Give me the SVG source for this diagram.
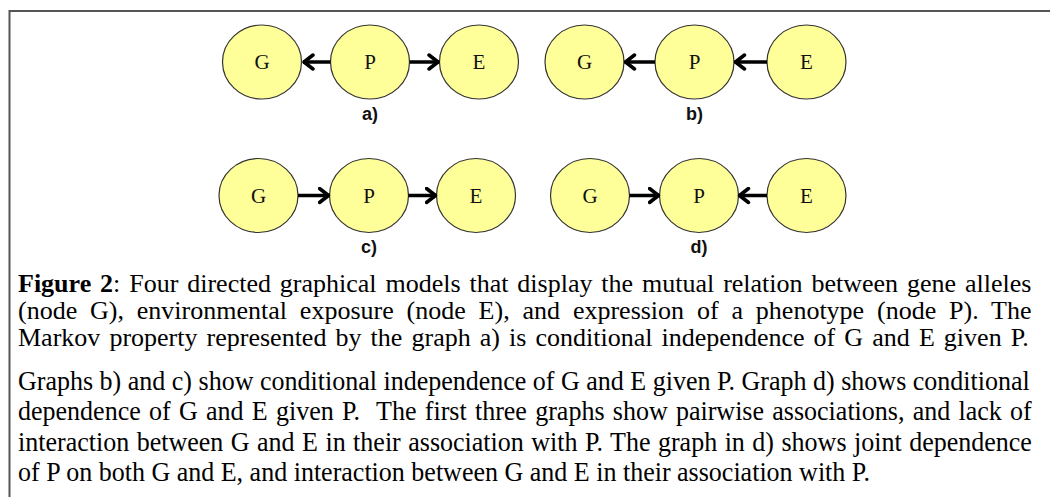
<svg xmlns="http://www.w3.org/2000/svg" width="1050" height="497" viewBox="0 0 1050 497">
<style>
.node ellipse{fill:#ffff99;stroke:#333;stroke-width:1.2}
.node text{font-family:"Liberation Serif",serif;font-size:21px;fill:#111;text-anchor:middle}
.lbl{font-family:"Liberation Sans",Arial,sans-serif;font-size:18px;font-weight:bold;text-anchor:middle;fill:#111}
.cap{font-family:"Liberation Serif","Times New Roman",serif;font-size:26px;fill:#000}
.cap .nar{font-size:28px}
.edge{stroke:#000;stroke-width:3.5;fill:none;marker-end:url(#arr)}
</style>
<defs>
<marker id="arr" markerUnits="userSpaceOnUse" viewBox="0 0 14 18" markerWidth="14" markerHeight="18" refX="12" refY="9" orient="auto">
<path d="M2,2 L11,9 L2,16" fill="none" stroke="#000" stroke-width="3.5" stroke-linecap="round" stroke-linejoin="round"/>
</marker>
</defs>
<rect width="1050" height="497" fill="#fff"/>
<path d="M9.5,497 V11 H1050" fill="none" stroke="#555" stroke-width="2"/>

<g id="a-G" class="node"><ellipse cx="262" cy="62" rx="39.5" ry="37"/><text x="262" y="69">G</text></g>
<g id="a-P" class="node"><ellipse cx="370" cy="62" rx="39.5" ry="37"/><text x="370" y="69">P</text></g>
<g id="a-E" class="node"><ellipse cx="479" cy="62" rx="39.5" ry="37"/><text x="479" y="69">E</text></g>
<g id="b-G" class="node"><ellipse cx="584.5" cy="62" rx="39.5" ry="37"/><text x="584.5" y="69">G</text></g>
<g id="b-P" class="node"><ellipse cx="694.5" cy="62" rx="39.5" ry="37"/><text x="694.5" y="69">P</text></g>
<g id="b-E" class="node"><ellipse cx="806.5" cy="62" rx="39.5" ry="37"/><text x="806.5" y="69">E</text></g>
<g id="c-G" class="node"><ellipse cx="258.5" cy="195.5" rx="39.5" ry="37"/><text x="258.5" y="202.5">G</text></g>
<g id="c-P" class="node"><ellipse cx="369" cy="195.5" rx="39.5" ry="37"/><text x="369" y="202.5">P</text></g>
<g id="c-E" class="node"><ellipse cx="476" cy="195.5" rx="39.5" ry="37"/><text x="476" y="202.5">E</text></g>
<g id="d-G" class="node"><ellipse cx="590" cy="195.5" rx="39.5" ry="37"/><text x="590" y="202.5">G</text></g>
<g id="d-P" class="node"><ellipse cx="699" cy="195.5" rx="39.5" ry="37"/><text x="699" y="202.5">P</text></g>
<g id="d-E" class="node"><ellipse cx="806.5" cy="195.5" rx="39.5" ry="37"/><text x="806.5" y="202.5">E</text></g>

<g id="connectors">
<line class="edge" x1="330.5" y1="62" x2="303" y2="62"/>
<line class="edge" x1="409.5" y1="62" x2="439" y2="62"/>
<line class="edge" x1="655" y1="62" x2="624.5" y2="62"/>
<line class="edge" x1="767" y1="62" x2="734.5" y2="62"/>
<line class="edge" x1="298" y1="195.5" x2="329.5" y2="195.5"/>
<line class="edge" x1="408.5" y1="195.5" x2="436.5" y2="195.5"/>
<line class="edge" x1="629.5" y1="195.5" x2="659.5" y2="195.5"/>
<line class="edge" x1="767" y1="195.5" x2="738.5" y2="195.5"/>
</g>

<g id="labels">
<text class="lbl" x="370" y="120">a)</text>
<text class="lbl" x="694.5" y="120">b)</text>
<text class="lbl" x="369" y="253">c)</text>
<text class="lbl" x="699" y="253">d)</text>
</g>

<g id="caption" class="cap">
<text x="18" y="292" word-spacing="2.4"><tspan font-weight="bold">Figure 2</tspan>: Four directed graphical models that display the mutual relation between gene alleles</text>
<text x="18" y="319" word-spacing="6.35">(node G), environmental exposure (node E), and expression of a phenotype (node P). The</text>
<text x="18" y="346" word-spacing="2.6">Markov property represented by the graph a) is conditional independence of G and E given P.</text>
<text class="nar" transform="translate(18,390) scale(0.929,1)">Graphs b) and c) show conditional independence of G and E given P. Graph d) shows conditional</text>
<text class="nar" transform="translate(18,420) scale(0.929,1)" word-spacing="1.9">dependence of G and E given P.&#160; The first three graphs show pairwise associations, and lack of</text>
<text class="nar" transform="translate(18,451) scale(0.929,1)" word-spacing="1.05">interaction between G and E in their association with P. The graph in d) shows joint dependence</text>
<text class="nar" transform="translate(18,481) scale(0.929,1)">of P on both G and E, and interaction between G and E in their association with P.</text>
</g>
</svg>
